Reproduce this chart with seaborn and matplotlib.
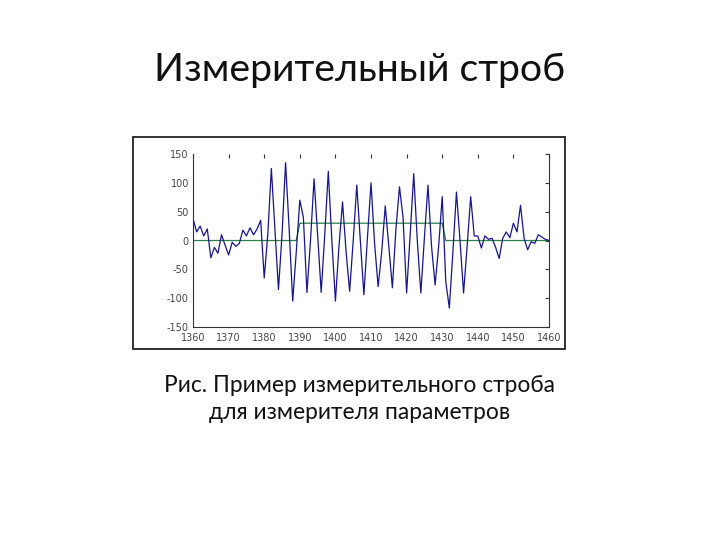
import numpy as np
import pandas as pd
import seaborn as sns
import matplotlib.pyplot as plt
from matplotlib.patches import Rectangle

# sample index of the signal
x = list(range(1360, 1461))

signal = [38, 15, 25, 8, 20, -30, -12, -22, 10, -8,
          -25, -3, -10, -5, 18, 8, 22, 10, 20, 35,
          -65, 10, 125, 20, -85, 10, 135, 20, -105, -20,
          70, 40, -90, 0, 107, 10, -90, 10, 120, 0,
          -105, -10, 67, -20, -88, 0, 96, 0, -94, 5,
          100, -5, -80, -20, 60, -10, -82, 20, 93, 40,
          -91, 10, 116, 0, -91, 5, 96, -10, -77, -10,
          76, -71, -117, -20, 84, 0, -91, -10, 76, 8,
          8, -13, 8, 2, 4, -12, -31, 4, 15, 5,
          30, 15, 61, 4, -16, -2, -5, 10, 6, 2,
          0]

# strobe level
strobe = [0] * 30 + [30] * 41 + [0] * 30

title = 'Измерительный строб'
caption = 'Рис. Пример измерительного строба\nдля измерителя параметров'

df = pd.DataFrame({'x': x, 'signal': signal, 'strobe': strobe})

sns.set_style('white')
plt.rcParams['font.family'] = ['Lato', 'DejaVu Sans']
plt.rcParams['axes.unicode_minus'] = False

fig = plt.figure(figsize=(7.2, 5.4), dpi=100)

# slide title and caption
fig.text(0.499, 0.870, title, ha='center', va='center', fontsize=28.3, color='#111111')
fig.text(0.499, 0.261, caption, ha='center', va='center', fontsize=16.4,
         color='#111111', linespacing=1.4)

# frame round the pasted figure
fig.add_artist(Rectangle((0.1847, 0.3537), 0.6, 0.3926, transform=fig.transFigure,
                         fill=False, edgecolor='#222222', linewidth=1.3))

ax = fig.add_axes([0.2681, 0.3944, 0.4944, 0.3204])
sns.lineplot(data=df, x='x', y='strobe', ax=ax, color='#2b7f4a', linewidth=0.9)
sns.lineplot(data=df, x='x', y='signal', ax=ax, color='#16168a', linewidth=0.9)

ax.set_xlim(1360, 1460)
ax.set_ylim(-150, 150)
ax.set_xticks(range(1360, 1461, 10))
ax.set_yticks(range(-150, 151, 50))
ax.set_xlabel('')
ax.set_ylabel('')
ax.tick_params(direction='in', length=3, width=0.8, top=True, right=True,
               labelsize=7, labelcolor='#444444', color='#333333')
ax.tick_params(axis='x', pad=4)
ax.tick_params(axis='y', pad=3)
for lbl in ax.get_xticklabels() + ax.get_yticklabels():
    lbl.set_family('DejaVu Sans')
for side in ['left', 'bottom', 'right']:
    ax.spines[side].set_color('#333333')
    ax.spines[side].set_linewidth(0.8)
ax.spines['top'].set_visible(False)

fig.savefig('out.png', dpi=100)
